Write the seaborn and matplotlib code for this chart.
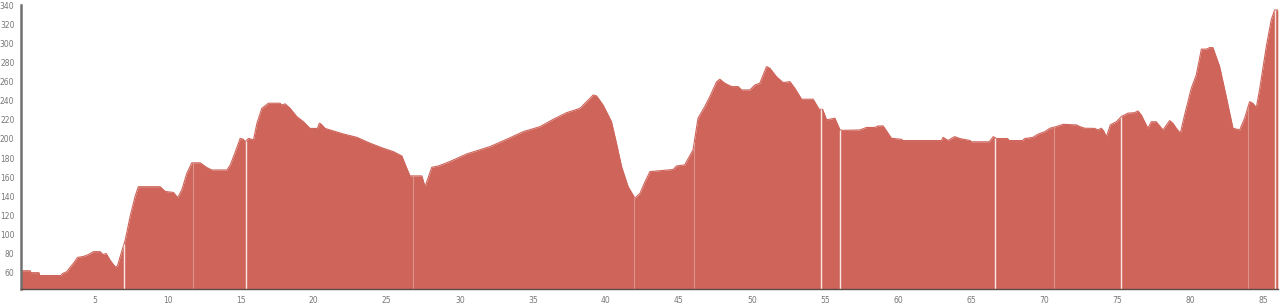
import numpy as np
import pandas as pd
import matplotlib
matplotlib.use("Agg")
import matplotlib.pyplot as plt
import seaborn as sns

# Elevation profile: distance (km) and elevation (m)
distance_km = [
    0.0, 0.6, 0.65, 1.2, 1.25, 2.7, 2.8, 3.1, 3.35, 3.57, 3.84, 4.25, 4.59, 4.93, 5.39, 5.57, 5.8,
    6.07, 6.42, 6.57, 6.76, 7.1, 7.44, 7.78, 8.0, 9.49, 9.84, 10.4, 10.7, 10.98, 11.32, 11.66,
    12.23, 12.69, 13.03, 14.06, 14.3, 14.6, 14.97, 15.19, 15.3, 15.54, 15.88, 16.11, 16.45, 16.9,
    17.7, 17.8, 18.05, 18.39, 18.84, 19.3, 19.75, 20.25, 20.39, 20.5, 20.78, 21.12, 22.03, 22.95,
    23.86, 24.77, 25.45, 26.03, 26.37, 26.59, 27.4, 27.62, 28.08, 28.53, 29.1, 29.56, 30.47,
    32.07, 33.21, 34.34, 35.49, 36.4, 37.31, 38.22, 38.68, 39.13, 39.36, 39.8, 40.38, 40.72,
    41.07, 41.52, 41.98, 42.33, 42.67, 43.01, 44.6, 44.83, 45.39, 45.96, 46.3, 46.77, 47.1,
    47.58, 47.8, 48.14, 48.6, 49.05, 49.28, 49.85, 50.2, 50.53, 50.99, 51.22, 51.68, 52.13,
    52.59, 52.93, 53.39, 54.18, 54.59, 54.83, 55.1, 55.67, 56.02, 56.23, 57.37, 57.83, 58.4,
    58.62, 58.97, 59.54, 60.22, 60.34, 62.96, 63.07, 63.35, 63.4, 63.86, 64.22, 64.93, 65.01,
    66.23, 66.51, 66.73, 67.49, 67.6, 68.51, 68.65, 69.23, 69.57, 70.03, 70.38, 70.83, 71.28,
    72.2, 72.42, 72.76, 73.45, 73.67, 73.9, 74.06, 74.25, 74.52, 74.93, 75.27, 75.73, 76.18,
    76.41, 76.64, 77.09, 77.32, 77.66, 78.12, 78.58, 78.8, 79.03, 79.31, 79.6, 80.06, 80.4,
    80.75, 81.09, 81.31, 81.54, 82.0, 82.45, 82.91, 83.37, 83.71, 84.05, 84.27, 84.51, 84.73,
    85.19, 85.53, 85.76, 85.98,
]
elevation_m = [
    62, 62, 60, 60, 57, 57, 59, 61, 66, 70, 76, 77, 79, 82, 82, 79, 80,
    73, 66, 67, 77, 94, 119, 140, 150, 150, 145, 144, 138.5, 147, 164, 175,
    175, 170, 167.5, 167.5, 173, 185, 200.6, 199.6, 197, 200.6, 199, 216, 232, 237.4,
    237.4, 235.6, 236.7, 232, 223.4, 218, 211, 211, 216.4, 215.7, 211, 209.4, 205.2, 201.7,
    195.5, 190.2, 186.7, 182.2, 169.3, 161.3, 161.3, 150, 170.3, 171.7, 175, 178, 184.3,
    192, 199.7, 207.6, 212.9, 220.6, 227.5, 232, 239, 246, 245, 235.6, 218, 195.5,
    171, 150, 138, 143, 155, 165.8, 168, 171.7, 172.8, 188.5, 221.7, 234, 244,
    260, 262.5, 258.3, 254.8, 254.8, 251.3, 251.3, 256.5, 258.3, 275.7, 274, 265, 259,
    260, 253, 241.6, 241.6, 231, 231, 220, 221.7, 209.4, 209, 209.4, 212, 212,
    213.6, 213.6, 200.7, 199.6, 198.3, 198.3, 201.7, 199, 198.3, 202.4, 200.4, 198.3, 197,
    197, 202.4, 200.4, 200.4, 198.3, 198.3, 200.4, 201.7, 205, 207.6, 211.2, 213, 215.3,
    214.7, 213, 211.2, 211, 209.4, 211.2, 208.5, 202.4, 214.7, 218, 223.4, 227, 227.5,
    229.3, 225, 211.2, 218, 218, 209.4, 219.2, 216.4, 211.2, 206, 225, 253, 267,
    294, 294, 295.6, 295.6, 275.7, 244.3, 211.2, 209.4, 221.7, 239, 237.4, 233, 251.3,
    296.6, 324.6, 335, 335,
]

# Segment boundaries (km) shown as thin white lines; strong vs faint
segment_breaks_strong = [7.03, 15.38, 54.75, 56.05, 66.66, 75.26, 85.76]
segment_breaks_faint = [11.77, 26.78, 41.94, 46.04, 70.66, 83.93]

y_ticks = list(range(60, 341, 20))
x_ticks = list(range(5, 86, 5))

df = pd.DataFrame({"km": distance_km, "elev": elevation_m})

sns.set_theme(style="white")
plt.rcParams["font.family"] = ["DejaVu Sans"]

fig = plt.figure(figsize=(12.84, 3.06), dpi=100)
ax = fig.add_axes([0.0167, 0.0546, 0.9787, 0.9284])

fill_color = "#cf645a"
ymin, ymax = 42.6, 340
ax.fill_between(df["km"], ymin, df["elev"], color=fill_color, linewidth=0)
sns.lineplot(data=df, x="km", y="elev", ax=ax, color=fill_color, linewidth=0.8)

top_s = np.interp(segment_breaks_strong, df["km"], df["elev"])
top_f = np.interp(segment_breaks_faint, df["km"], df["elev"])
ax.vlines(segment_breaks_strong, ymin, top_s, colors="white", linewidth=1.0, alpha=0.85)
ax.vlines(segment_breaks_faint, ymin, top_f, colors="white", linewidth=0.8, alpha=0.3)

ax.set_xlim(0, 86.0)
ax.set_ylim(ymin, ymax)
ax.set_xticks(x_ticks)
ax.set_xticklabels([str(v) for v in x_ticks])
ax.set_yticks(y_ticks)
ax.set_yticklabels([str(v) for v in y_ticks])
ax.set_xlabel("")
ax.set_ylabel("")

for s in ["top", "right"]:
    ax.spines[s].set_visible(False)
ax.spines["left"].set_color("#707070")
ax.spines["left"].set_linewidth(1.8)
ax.spines["bottom"].set_color("#5a4a48")
ax.spines["bottom"].set_linewidth(1.0)

ax.tick_params(axis="both", direction="out", length=3, width=0.8, colors="#666666",
               labelsize=5.5, labelcolor="#777777", pad=2)
ax.grid(False)

fig.savefig("out.png", dpi=100)
